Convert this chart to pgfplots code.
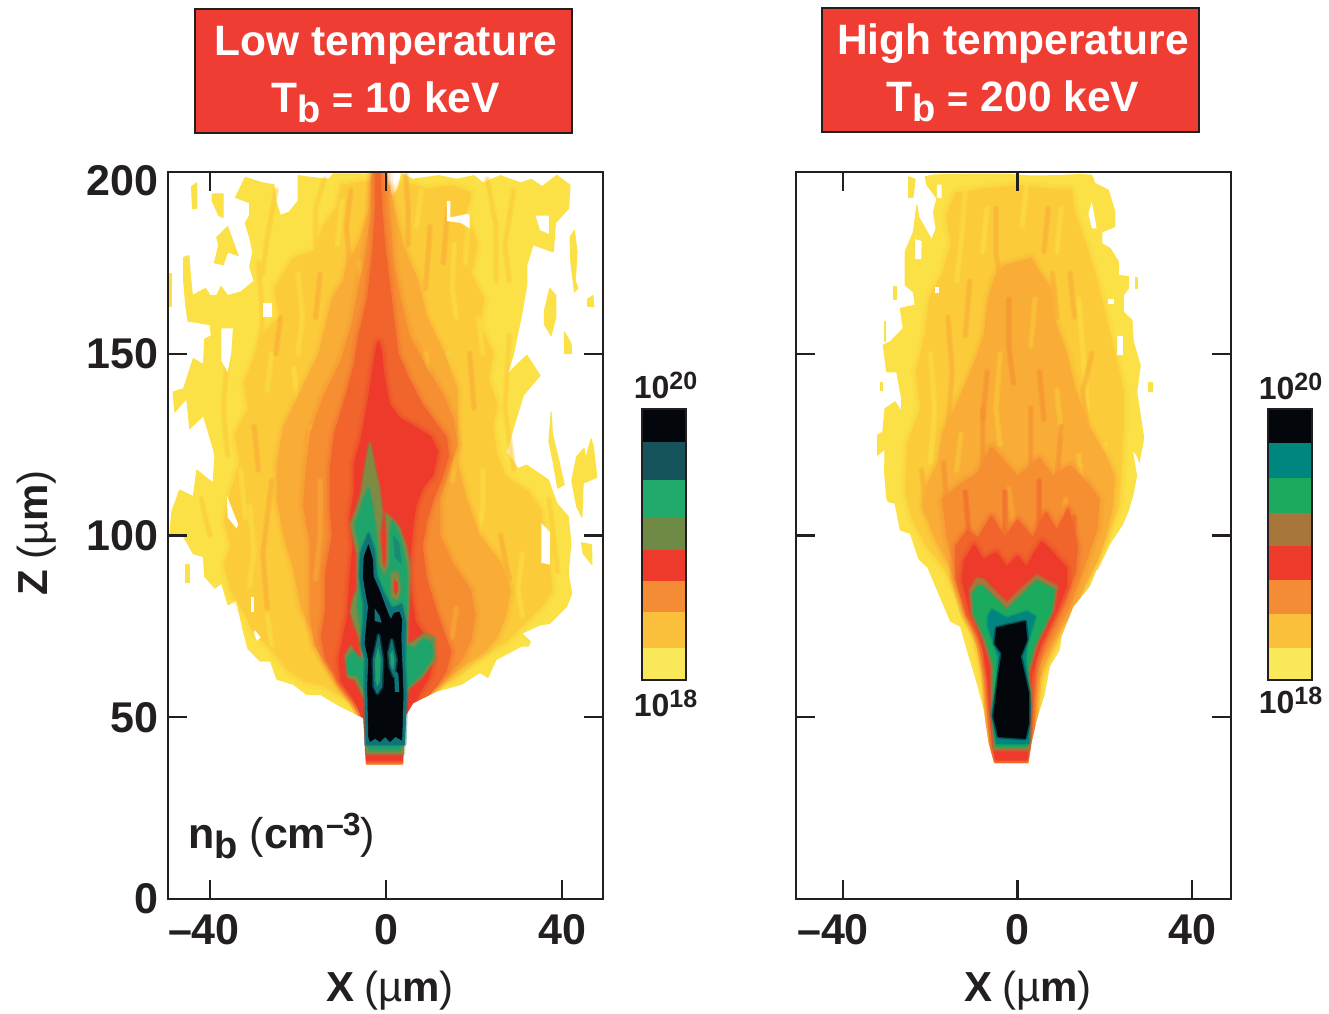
\documentclass[border=0pt]{standalone}
\usepackage{pgfplots}
\pgfplotsset{compat=1.18}
\usepackage{fontspec}
\setmainfont{Liberation Sans}
\definecolor{cy}{HTML}{FBE145}
\definecolor{cg}{HTML}{FCCB3A}
\definecolor{cm}{HTML}{F9AC36}
\definecolor{co}{HTML}{F68F32}
\definecolor{cr}{HTML}{F1652C}
\definecolor{cd}{HTML}{EE3A2A}
\definecolor{cl}{HTML}{7F8A45}
\definecolor{cn}{HTML}{1FA56B}
\definecolor{ct}{HTML}{0F7478}
\definecolor{ck}{HTML}{03060A}
\definecolor{cb}{HTML}{A6763A}
\definecolor{cn2}{HTML}{1BAA5E}
\definecolor{ct2}{HTML}{00857F}
\definecolor{bary}{HTML}{F8E85A}
\definecolor{barg}{HTML}{FAC03C}
\definecolor{baro}{HTML}{F48B35}
\definecolor{barl}{HTML}{6F8A45}
\definecolor{barn}{HTML}{22A96C}
\definecolor{bart}{HTML}{15525A}
\definecolor{title}{HTML}{EF3D33}
\definecolor{ln}{HTML}{231F20}
\newcommand{\poly}[2]{\addplot[fill=#1,draw=#1,line width=1pt,line join=round] coordinates {#2} --cycle;}
\newcommand{\crisp}[2]{\addplot[fill=#1,draw=none] coordinates {#2} --cycle;}
\newcommand{\soft}[2]{%
\addplot[draw=#1,line width=13pt,opacity=.16,line join=round] coordinates {#2} --cycle;
\addplot[draw=#1,line width=8pt,opacity=.28,line join=round] coordinates {#2} --cycle;
\addplot[fill=#1,draw=#1,line width=3pt,line join=round] coordinates {#2} --cycle;}
\newcommand{\softer}[2]{%
\addplot[draw=#1,line width=4pt,opacity=.4,line join=round] coordinates {#2} --cycle;
\addplot[fill=#1,draw=#1,line width=1pt,line join=round] coordinates {#2} --cycle;}
\newcommand{\streak}[2]{\addplot[draw=#1,line width=6pt,opacity=.4,line cap=round,line join=round] coordinates {#2};
\addplot[draw=#1,line width=3pt,opacity=.4,line cap=round,line join=round] coordinates {#2};}
\newcommand{\fs}[1]{\fontsize{#1}{#1}\selectfont}
\pgfplotsset{panel/.style={
  scale only axis,width=435pt,height=727pt,anchor=south west,
  ymin=0,ymax=200,axis on top,
  axis line style={line width=2.6pt,ln},
  xtick={-40,0,40},xtick pos=bottom,
  ytick={0,50,100,150},ytick pos=both,
  tick align=inside,major tick length=19pt,
  tick style={line width=2.4pt,ln},
  tick label style={font=\fs{43}\bfseries,text=ln},
  /pgf/number format/assume math mode=true,
  xticklabel style={yshift=-12pt},
  yticklabel style={xshift=-6pt},
},
cbar/.style={
  scale only axis,width=44pt,height=271pt,anchor=south west,
  xmin=0,xmax=1,ymin=18,ymax=20,axis on top,
  axis line style={line width=2.6pt,ln},ticks=none}}
\begin{document}
\begin{tikzpicture}
\path[use as bounding box] (0pt,0pt) rectangle (1329pt,1013pt);
% ---------- LEFT PANEL ----------
\begin{axis}[panel,at={(168pt,114pt)},xmin=-49.55,xmax=49.3,
  xticklabels={{\hbox to 84pt{–40\hfil}},0,40},
  extra y ticks={200},extra y tick labels={200},
  extra tick style={yticklabel style={yshift=-9pt}}]
\poly{cy}{(3.9,36.9)(4.3,50)(6.2,53.8)(11.5,57)(17.2,58.9)(21.3,62.1)(23.2,60.7)(25.1,65.7)(30.8,69.4)(31.9,68.3)(32.8,70.8)(30.8,73.1)(35,75.4)(37.2,75.8)(41,80.4)(42.2,84.1)(41.4,89.6)(42,98)(41.4,105.2)(38.8,108.9)(36.9,115.3)(31.9,119.4)(30,118.4)(27.4,123)(28.9,129.4)(31.2,138.6)(35,144)(32,149.6)(28.9,146)(27.4,144)(28.9,149.6)(30.8,160.6)(32,169)(32,174.4)(33.4,180)(38,178)(38.5,186)(41.5,190)(41.8,196.4)(38.8,199.1)(35.5,196)(33,198)(30.6,197)(26,199)(22,197)(20,199)(16,198)(12,199)(6,198)(3.5,199.5)(2.5,194)(1.2,190)(0.5,195)(0,199.5)(-12,199.5)(-13,198)(-17,198.5)(-20,199)(-20,192)(-22,189)(-24,188)(-25,192)(-25.5,196.5)(-28,197)(-32,198.5)(-33,196)(-34.2,193)(-31,191.5)(-31,188)(-32,186)(-31,182)(-30.3,178)(-31,174)(-30,170)(-31,169)(-33,167)(-36,166)(-37.5,168.5)(-38.5,166)(-40,166)(-41,168)(-44,166)(-44.5,172)(-44.8,177)(-46,176.5)(-46,170)(-45.5,163)(-45,159)(-40,158)(-39.7,155)(-41.2,154)(-41.5,147)(-43.8,148.7)(-46,140.4)(-48.4,139.5)(-48,134)(-45.3,137.7)(-44.6,129.4)(-41.5,133)(-39.3,124)(-38.9,121.7)(-39.3,114.4)(-43,118)(-43.8,110.7)(-46.9,112.5)(-48.7,106.6)(-49.1,100.6)(-46,99.7)(-43.8,95)(-41.5,94.2)(-41.2,88.7)(-38.9,85.5)(-37.4,86.9)(-35.9,80.9)(-34,82.3)(-32.5,74)(-31.3,68.5)(-28.7,65.3)(-26.4,65.3)(-24.9,60.3)(-21.1,58.9)(-18.1,56.1)(-15,56.1)(-10.5,52.9)(-5.2,49.7)(-4.6,36.9)}
% islands
\poly{cy}{(-44.2,196)(-43,197)(-43,190)(-44,190)}
\poly{cy}{(-39.5,194)(-37,194)(-37,187.5)(-38,188)(-39.5,192)}
\poly{cy}{(-38.5,182)(-36,185)(-33.6,177)(-36,178)(-37,174.5)(-39,175)(-38,180)}
\poly{cy}{(-49.2,172)(-48.8,172)(-48.8,163)(-49.2,163)}
\poly{cy}{(41.8,182)(42.8,184)(43.4,178)(43,170)(43.6,168)(42.8,167)(42,175)}
\poly{cy}{(45.8,165)(47,166)(47.2,163)(45.8,163)}
\poly{cy}{(40.5,156)(42,153)(42.2,150)(40.5,150)}
\poly{cy}{(37.2,168)(38.6,166)(38.6,160)(37.5,155)(36,158)(36,162)}
\poly{cy}{(37.5,134)(37.8,128)(39,122)(40.5,114)(39,113)(38,120)(37,126)}
\poly{cy}{(47.1,124.5)(47.9,116)(44.8,114.4)(44.5,105)(43.3,108)(42.2,115)(43.3,121.7)(45,124)(45.3,121)(46.6,126.6)}
\poly{cy}{(44.4,98)(46.7,97.5)(46.8,92)(44.8,95)}
\poly{cy}{(-45.6,92)(-44.6,92)(-44.6,87)(-45.6,87)}
% gold
\soft{cg}{(3.9,38)(4.8,54)(8,58)(15,60.5)(20,65.5)(23,68)(27,71)(30,74.5)(33,78)(35.5,81)(37.5,85)(37,91)(37,98)(35.5,101)(35,107)(32,112)(27,116)(25,122)(24,130)(25,136)(23,143)(24,150)(21,158)(22,165)(19,172)(20.5,180)(18,188)(19,194)(15,196)(9,195)(4,197)(2.8,195)(1,192)(0,195)(-1,197)(-6,197)(-10,196)(-11,190)(-14,185)(-16,178)(-21,176)(-23,172)(-25,168)(-24,160)(-28,155)(-30,148)(-32,142)(-31,135)(-34,128)(-33,120)(-35,112)(-36.5,104)(-35,97)(-36.5,92)(-35,85)(-32,79)(-30,74)(-26,69)(-22,63)(-18,60)(-14,59)(-10,56)(-5,52)(-4.6,38)}
% streaks over yellow and gold
\streak{cg}{(-29,175)(-28,160)(-30,140)(-29,125)}
\streak{cg}{(28,155)(27,135)(29,118)}
\streak{cg}{(-25,195)(-27,182)(-28,172)}
\streak{cg}{(29,195)(27,180)(28,170)}
\streak{cg}{(37,110)(38,100)(39,90)}
\streak{cg}{(-42,110)(-40,100)}
\streak{cg}{(-14,198)(-16,190)(-16,180)}
\streak{cg}{(23,198)(25,185)(25,170)}
\streak{cg}{(-36,150)(-37,135)(-36,122)}
\streak{cg}{(33,100)(35,88)(34,80)}
\streak{cy}{(-20,172)(-19,160)(-20,150)}
\streak{cy}{(-21,146)(-20,136)(-21,128)}
\streak{cy}{(15.5,180)(15,168)(16,160)}
\streak{cy}{(14,150)(15,140)}
\streak{cy}{(22,118)(22,108)(21,100)}
\streak{cy}{(-31,108)(-30,96)(-31,86)}
\streak{cy}{(-27,78)(-26,70)}
\streak{cy}{(31,95)(30,85)(31,78)}
\streak{cy}{(21,160)(22,150)}
\streak{cy}{(8,195)(7,185)}
\streak{cy}{(-26,150)(-27,140)}
\streak{cy}{(-10,192)(-11,180)}
\streak{cy}{(-33,118)(-32,105)}
\streak{cy}{(19,190)(18,175)}
\streak{cm}{(-18,140)(-19,125)(-18,108)}
\streak{cm}{(-8,170)(-9,185)(-8,195)}
\streak{cm}{(9,168)(10,185)}
\streak{cm}{(21,98)(24,85)(22,72)}
\streak{cm}{(-26,115)(-28,95)(-27,80)}
\streak{cm}{(-15,172)(-16,160)}
\streak{cm}{(19,150)(20,135)}
\streak{cm}{(4.5,199)(5,190)(5,180)}
\streak{cm}{(-24,160)(-25,150)}
\streak{cm}{(14,190)(13,175)}
\streak{cm}{(26,100)(28,88)}
\streak{cm}{(-30,130)(-29,118)}
% mid orange
\soft{cm}{(3.9,38)(5.5,54)(8.5,57)(13,60)(17,64)(22,68)(25,72)(27,78)(28,85)(26,92)(21,100)(18,110)(16,120)(16,130)(16,140)(13,150)(9,160)(7,170)(3.5,180)(2,188)(0.5,196)(-3,197)(-3.5,190)(-6,180)(-8.5,175)(-9.5,170)(-12,165)(-13,160)(-15,150)(-19,140)(-23,130)(-24.5,120)(-24.5,110)(-23,100)(-21,92)(-19,80)(-16,72)(-13,67)(-10,60)(-7,55)(-5.2,52)(-4.6,38)}
\streak{cg}{(-17,130)(-18,115)(-17,100)}
\streak{cg}{(16,125)(15,115)}
\streak{cg}{(9,150)(10,140)}
\streak{cg}{(-5,165)(-6,175)}
% orange
\soft{co}{(3.9,38)(5,52)(7,55.5)(10,58)(14,62)(17,66)(19,71)(20,78)(19,85)(15,92)(12,100)(12,110)(14,118)(16,125)(15,132)(13,138)(9,146)(5,155)(3,165)(1.5,175)(0.5,190)(0,199.5)(-3,199.5)(-3.2,188)(-4.5,177)(-6,168)(-7.5,158)(-10,148)(-14,138)(-17,128)(-18,118)(-18.5,108)(-17,98)(-17,88)(-17,78)(-16,70)(-13,64)(-10,58)(-6.5,54)(-5,52)(-4.6,38)}
\streak{cm}{(-15,115)(-15,100)(-16,88)}
\streak{cm}{(16,80)(15,72)}
% orange-red
\soft{cr}{(3.9,38)(4.7,50)(6.5,53)(9,55.5)(11.5,59)(13.5,63)(14.5,68)(13,73)(11,80)(9,88)(8,97)(9,104)(10.5,110)(12.5,116)(14,122)(13.5,127)(11,131)(8,136)(5,143)(2.5,150)(1.5,160)(0.5,170)(-0.5,180)(-1.2,190)(-1.5,199.5)(-2.2,199.5)(-2.2,190)(-2.8,178)(-4,165)(-6,155)(-7,147)(-9,138)(-11.5,128)(-12.5,118)(-12.5,108)(-12,100)(-13.5,90)(-13.5,80)(-14.5,72)(-13.5,66)(-10.5,60)(-7.5,55)(-5,51)(-4.6,38)}
% red
\soft{cd}{(3.9,38.5)(4.3,50)(6,53)(7.5,57)(9.5,61)(10.5,66)(9,71.5)(6.5,76)(5.5,83)(5,90)(5.5,98)(6,104)(6.5,108)(8,113)(10.5,117)(11.5,123)(10,127)(6,130)(3,132)(0.5,136)(-0.7,144)(-1.2,150)(-1.7,153)(-2.2,150)(-3,144)(-4,136)(-5.5,126)(-7,120)(-7,112)(-8,105)(-7.3,97)(-8,88)(-8.5,78)(-9.5,72)(-10.5,66)(-10,60)(-7,55)(-5.2,50)(-4.7,38.5)}
% white outside the outer contour
\crisp{white}{(-49.4,68.5)(-31.3,68.5)(-28.7,65.3)(-26.4,65.3)(-24.9,60.3)(-21.1,58.9)(-18.1,56.1)(-15,56.1)(-10.5,52.9)(-5.2,49.7)(-4.6,36.9)(3.9,36.9)(4.3,50)(6.2,53.8)(11.5,57)(17.2,58.9)(21.3,62.1)(23.2,60.7)(25.1,65.7)(30.8,69.4)(49,69.4)(49,30)(-49.4,30)}
% holes
\crisp{white}{(35.3,103.4)(37.2,101)(37.2,92)(35.3,92.5)}
\crisp{white}{(-36.2,111)(-33.6,103)(-34,102)(-36,105)}
\crisp{white}{(-30.6,83)(-30,83)(-30,79)(-30.6,79)}
\crisp{white}{(-29.8,74)(-28.5,72)(-29.3,71)(-30,73)}
\crisp{white}{(-27.9,164)(-26,164)(-26,160)(-27.9,160)}
\crisp{white}{(13.8,192)(14.6,192)(14.6,187.5)(18.5,188.5)(19,188)(19,184.5)(17,186)(13.8,186.5)}
\crisp{white}{(34,188)(37,188)(37,183)(35,184)}
\crisp{white}{(-37.4,157)(-34.8,157)(-35.2,150)(-36,145)(-37.4,148)}
% olive
\softer{cl}{(-3.7,125.4)(-2.5,118)(-1.6,113)(-0.9,106)(-1.5,100)(-1,92.5)(-0.3,90.5)(0.2,93)(0.3,100)(0,106)(1,105)(3,102)(4.5,97)(5.4,92)(5.3,85)(5,78)(4.8,70)(6,70.5)(8.8,73)(11,72)(11.2,66)(8,61)(5,58)(4,51)(3.9,40)(-4.4,40)(-4.4,50)(-4.8,55)(-7,60.5)(-8.6,61)(-9.2,67)(-8,69.5)(-6.5,65.5)(-5.4,66)(-6,72)(-7,75)(-8,79)(-7.3,83)(-6.5,85)(-6.5,95)(-7.5,100)(-8,103)(-6.5,108)(-5.5,112)(-4.8,118)}
% green
\softer{cn}{(-4,113)(-3,107)(-2.3,100)(-1.9,92)(-0.4,88.5)(1,92)(1,101)(1.5,104)(3,100)(4,95)(4.7,90)(4.6,80)(4.2,70)(6.5,69)(8.5,71.5)(10.4,70.5)(10.5,66.5)(8,62)(4.5,58)(3.2,50)(3.2,41)(-3.8,41)(-3.8,50)(-4.2,56)(-6.5,61.5)(-8.5,62)(-8.8,66)(-7.5,68)(-5,65)(-4.6,68)(-5.5,73)(-6.4,80)(-6,88)(-5.8,96)(-7,103)(-5.8,107)(-5,110)}
\softer{cl}{(1.3,89.5)(2.6,90)(3.2,85)(2.6,82.5)(1.4,83)(1.2,86)}
\crisp{cd}{(1.8,88)(2.6,87)(2.8,85)(2.2,83.5)(1.7,85)}
\crisp{ct!50!cn}{(1.6,100)(3,98)(3.6,92)(2,94)}
% teal
\softer{ct}{(-4,100.5)(-2.7,96)(-2.2,89)(-0.7,84.5)(1,80.5)(1.6,80)(3.5,81)(4.4,76)(4.2,65)(4.6,56)(4.2,42.5)(-4.5,42.5)(-4.8,58)(-4.7,66)(-5.6,70)(-5.1,76)(-5,81)(-5.4,84)(-6,89)(-5.8,95)}
% black
\addplot[fill=ck,draw=ck,line width=.5pt,line join=round] coordinates {(-4,97.4)(-3,93.3)(-2.9,88.7)(-1.4,84.6)(0.3,79)(1.1,76.8)(1.8,78.6)(3,79)(3.6,76.8)(3.4,72.2)(3.6,65.8)(3.9,56.6)(3.6,43.7)(2.1,44.7)(0.9,43.3)(-0.2,44.7)(-1.4,43.3)(-2.5,44.2)(-3.6,43.3)(-4,44.7)(-4.2,58.4)(-4,65.8)(-4.8,70.3)(-4.4,75.9)(-4,80.4)(-4.6,84.1)(-5.2,88.7)(-5,94.2)} --cycle;
\crisp{ct}{(-2.6,80)(-1.5,78)(-1,76)(-2.6,76.5)}
\softer{ct}{(-1.7,72.6)(-0.8,65.8)(-1,58.4)(-2,56.6)(-2.7,58.4)(-2.9,65.8)}
\crisp{cn}{(-1.8,69.5)(-1.2,65.8)(-1.4,60)(-2,58.4)(-2.4,60)(-2.5,65.8)}
\softer{ct}{(1.3,71.3)(2.3,65.8)(1.8,61.2)(0.9,63.9)(0.6,67.6)}
\crisp{cn}{(1.4,68.5)(1.9,65.8)(1.6,63)(1.1,64.3)(0.95,67)}
\crisp{ct}{(1.8,63)(2.8,62)(3,57)(2,57)}
\draw[line width=2.4pt,ln] (axis cs:-40,200)--(axis cs:-40,194.8);
\draw[line width=2.4pt,ln] (axis cs:0,200)--(axis cs:0,194.8);
\end{axis}
% ---------- RIGHT PANEL ----------
\begin{axis}[panel,at={(796pt,114pt)},xmin=-50.8,xmax=48.9,yticklabels={},
  xticklabels={{\hbox to 92pt{–40\hfil}},0,40}]
\poly{cy}{(2.5,37.3)(3.2,42.8)(4.4,49.2)(6.3,56.6)(7.4,63.9)(9.7,68.5)(10.1,72.2)(12.8,80.4)(16.6,86)(18.1,90.5)(21.2,97.9)(24.2,103.4)(25.4,107)(26.5,111.6)(27.7,119.3)(28.9,126.7)(27.3,139.5)(28.1,146.8)(26.5,153.3)(26.2,159.2)(24.2,161.5)(24.2,166.1)(25.4,168)(25.4,171.2)(23.1,171.6)(23.1,175.3)(21.2,179)(19.3,180.3)(19.3,183.5)(22.3,185)(22.3,189)(20.8,195)(17.7,196.9)(17,199.1)(14.3,199.3)(9,199)(2.9,198.9)(-2.5,199.4)(-10.9,199.4)(-19.3,199.2)(-21.2,198.7)(-20.8,196.4)(-18.5,192.7)(-19.3,189)(-18.7,184.5)(-19.7,181.3)(-22.7,187.7)(-23.1,190.9)(-23.9,183.5)(-25.8,178)(-25.8,168.9)(-23.9,167)(-23.5,163.4)(-26.9,162.5)(-26.2,157)(-29.2,153.3)(-30.8,152.4)(-30,145)(-27.7,145)(-26.6,137.7)(-26.6,134)(-28.1,136.8)(-30.4,134.9)(-30.9,128.5)(-32.1,127.6)(-32.1,122.1)(-30.4,123.9)(-30.5,117.5)(-30,110.2)(-29.6,109.3)(-28.1,108.9)(-26.9,101.5)(-24.6,100.6)(-22.7,93.7)(-20.8,91.4)(-15.5,76.3)(-13.2,74.9)(-11.7,68.5)(-9.4,59.3)(-7.8,52)(-6.7,42.8)(-5.4,37.3)}
\poly{cy}{(-25,198.7)(-23.5,198)(-24,193)(-25,193)}
\poly{cy}{(30,142)(30.8,142)(30.8,139.5)(30,139.5)}
\poly{cy}{(27,171)(27.4,171)(27.4,168)(27,168)}
\poly{cy}{(-28.5,168.5)(-27.8,168.5)(-27.8,165)(-28.5,165)}
\poly{cy}{(-31.4,142)(-31,142)(-31,140)(-31.4,140)}
\poly{cy}{(-30.6,158.8)(-30.2,158.8)(-30.2,153.5)(-30.6,153.5)}
% gold
\soft{cg}{(2,38.5)(3,43)(3.5,49)(4.5,56)(5.5,63)(7.5,68.5)(10,78)(13,85)(17,93)(20,100)(23,108)(23.5,118)(24,130)(24,140)(22,150)(20,160)(18,170)(16,178)(13,188)(12,195)(8,195)(0,196)(-8,195)(-14,194)(-16,188)(-15,180)(-17,172)(-20,165)(-21,155)(-23,145)(-22,135)(-25,125)(-25.5,112)(-24,105)(-21,98)(-16,90)(-13,82)(-10,74)(-8.5,66)(-7,58)(-5.5,46)(-5,38.5)}
\streak{cy}{(-12,195)(-13,180)(-14,170)}
\streak{cy}{(14,165)(15,150)(16,135)}
\streak{cy}{(-20,150)(-19,135)(-20,120)}
\streak{cy}{(2,196)(1,185)}
\streak{cy}{(20,125)(21,112)}
\streak{cy}{(-7,190)(-8,178)}
\streak{cy}{(10,190)(9,178)}
\streak{cm}{(-5,190)(-5,178)(-4,170)}
\streak{cm}{(7,190)(6,178)}
\streak{cm}{(17,150)(15,140)(16,125)}
\streak{cm}{(-16,160)(-15,145)(-16,130)}
\streak{cm}{(-2,165)(-3,152)}
\streak{cm}{(8,172)(9,160)}
\streak{cm}{(-11,170)(-12,155)}
\streak{cm}{(12,172)(13,160)}
\streak{cm}{(-22,118)(-21,106)}
% mid orange
\soft{cm}{(2,38)(3,42)(3.8,50)(4.5,60)(7,68)(10,75)(13,80)(15.5,87)(18,93)(20,100)(21.5,108)(22,116)(20,122)(16,130)(13,140)(11,150)(8,160)(7.5,168)(5,172)(3,176)(-3,174)(-5,171)(-6.5,165)(-7.5,155)(-9.5,148)(-13,138)(-17,128)(-18,120)(-20.5,114)(-21.5,108)(-19,100)(-15.5,92)(-13.5,85)(-11,78)(-8,70)(-6.5,62)(-6,52)(-5.5,43)(-5,38)}
\streak{cg}{(-4,150)(-5,135)(-4,125)}
\streak{cg}{(9,140)(10,128)}
\streak{cg}{(-13,128)(-14,118)}
\streak{cg}{(14,122)(15,112)}
\streak{cg}{(4,165)(3,152)}
\streak{co}{(-2,165)(-2,152)(-1,142)}
\streak{co}{(5,145)(6,132)}
\streak{co}{(-7,145)(-8,132)}
% orange
\soft{co}{(2,38)(3,44)(3.6,55)(4.5,64)(8,72)(11.5,80)(14,88)(16,95)(18,102)(18.5,110)(16,114)(12,119)(8,116)(5,121)(0,116)(-6,124)(-9,117)(-14,113)(-17,110)(-16,100)(-14,90)(-12,80)(-9,72)(-7,62)(-6,50)(-5,38)}
\streak{cm}{(-2,113)(-1,104)}
\streak{cm}{(11,110)(10,102)}
\streak{co}{(-8,115)(-8,135)}
\streak{co}{(3,115)(3,135)}
\streak{co}{(9,115)(10,130)}
\streak{co}{(-16,105)(-17,120)}
% orange-red
\soft{cr}{(2,38.5)(3,46)(3.3,55)(4,66)(7.5,75)(10.5,82)(13,90)(13.5,97)(12.5,103)(11.5,107)(9,101)(6.5,106)(3.5,99)(0,104)(-3,99)(-6,105)(-9,99)(-11.5,101)(-14,97)(-14,88)(-11.5,78)(-8,71)(-7,62)(-6.2,50)(-5,38.5)}
\streak{cr}{(-11,98)(-12,112)}
\streak{cr}{(5,98)(5,115)}
\streak{cr}{(12,92)(13,105)}
\streak{cr}{(-3,100)(-3,112)}
% red
\soft{cd}{(-4.8,38.5)(2,38.5)(2.4,46)(2.6,55)(3,62)(5,70)(7,75)(9,80)(11,86)(11,91)(8,95)(5.5,98)(4,95)(2,91)(0,94)(-2.5,91)(-5,95)(-8,93)(-10,97)(-12,93)(-12.5,88)(-11,80)(-9,74)(-7.5,68)(-6.5,60)(-6,50)(-5.5,42)}
% white outside the outer contour
\crisp{white}{(-50.5,91.4)(-20.8,91.4)(-15.5,76.3)(-13.2,74.9)(-11.7,68.5)(-9.4,59.3)(-7.8,52)(-6.7,42.8)(-5.4,37.3)(2.5,37.3)(3.2,42.8)(4.4,49.2)(6.3,56.6)(7.4,63.9)(9.7,68.5)(10.1,72.2)(12.8,80.4)(16.6,86)(18.1,90.5)(48.5,90.5)(48.5,30)(-50.5,30)}
% holes
\crisp{white}{(-23.5,181.5)(-22,181)(-22.1,176)(-23.5,176)}
\crisp{white}{(-18.5,196.5)(-17.4,196.5)(-17.4,192.7)(-18.5,193)}
\crisp{white}{(16.2,188.6)(17,184.5)(18.1,184.5)(17,191.8)}
\crisp{white}{(22.7,155)(24.2,155)(24.2,149.6)(22.7,149.6)}
\crisp{white}{(-18.9,168.4)(-18.1,168.4)(-18.1,166.6)(-18.9,166.6)}
\crisp{white}{(20.8,165)(22,165)(22,163.8)(20.8,163.8)}
\crisp{white}{(26.5,123)(27.2,122)(28.5,118)(27.3,117)}
% brown edge
\softer{cb}{(-9.4,88.2)(-10.9,85)(-10.5,78.6)(-7.8,71.3)(-5.9,64)(-5.9,51)(-5.5,41)(2.5,41)(3.2,54.8)(2.5,62)(4.4,70.3)(8.2,79.5)(9,86)(4.4,89)(0.6,85)(-2.5,81.4)(-4.8,84)(-7.8,87.8)}
% green
\softer{cn2}{(-9,86)(-10.3,84)(-10,78.5)(-7.3,71.5)(-5.4,64)(-5.4,51)(-5,42)(2,42)(2.7,54.8)(2,62)(3.9,70)(7.6,79)(8.4,85)(4.4,87.5)(0.6,83)(-2.5,79.5)(-5,82.5)(-8,86)}
% teal
\softer{ct2}{(-6.7,77.7)(-5.9,79.5)(-2.5,77.2)(2.1,79)(4,77.7)(2.1,70.3)(1.7,65.8)(2.5,58.4)(2.9,52.9)(2.5,42.8)(-4.8,42.8)(-5.9,51)(-4.6,60.3)(-4.4,66.7)(-6.7,75)}
% black
\softer{ck}{(-4.8,74.5)(-2.5,75.2)(1.7,76.3)(2.1,71.3)(0.6,66.7)(1.3,63)(2.5,56.6)(2.5,48.3)(1.7,44.2)(-4.4,44.7)(-5.5,50.2)(-4.4,61.2)(-3.6,67.6)(-5.2,70.3)}
\draw[line width=2.4pt,ln] (axis cs:-40,200)--(axis cs:-40,194.8);
\draw[line width=2.4pt,ln] (axis cs:0,200)--(axis cs:0,194.8);
\end{axis}
% ---------- COLOUR BARS ----------
\begin{axis}[cbar,at={(642pt,333pt)}]
\crisp{bary}{(0,18)(1,18)(1,18.235)(0,18.235)}
\crisp{barg}{(0,18.235)(1,18.235)(1,18.5)(0,18.5)}
\crisp{baro}{(0,18.5)(1,18.5)(1,18.728)(0,18.728)}
\crisp{cd}{(0,18.728)(1,18.728)(1,18.963)(0,18.963)}
\crisp{barl}{(0,18.963)(1,18.963)(1,19.199)(0,19.199)}
\crisp{barn}{(0,19.199)(1,19.199)(1,19.478)(0,19.478)}
\crisp{bart}{(0,19.478)(1,19.478)(1,19.757)(0,19.757)}
\crisp{ck}{(0,19.757)(1,19.757)(1,20)(0,20)}
\end{axis}
\begin{axis}[cbar,at={(1268pt,333pt)}]
\crisp{bary}{(0,18)(1,18)(1,18.235)(0,18.235)}
\crisp{barg}{(0,18.235)(1,18.235)(1,18.49)(0,18.49)}
\crisp{baro}{(0,18.49)(1,18.49)(1,18.74)(0,18.74)}
\crisp{cd}{(0,18.74)(1,18.74)(1,18.99)(0,18.99)}
\crisp{cb}{(0,18.99)(1,18.99)(1,19.235)(0,19.235)}
\crisp{cn2}{(0,19.235)(1,19.235)(1,19.49)(0,19.49)}
\crisp{ct2}{(0,19.49)(1,19.49)(1,19.75)(0,19.75)}
\crisp{ck}{(0,19.75)(1,19.75)(1,20)(0,20)}
\end{axis}
% ---------- TEXT ----------
\newcommand{\bartext}[1]{\fs{32}\bfseries 10\raisebox{9pt}{\fs{25}\bfseries #1}}
\node[text=ln] at (665.5pt,1013pt-385pt) {\bartext{20}};
\node[text=ln] at (665.5pt,1013pt-703pt) {\bartext{18}};
\node[text=ln] at (1290.5pt,1013pt-386pt) {\bartext{20}};
\node[text=ln] at (1290.5pt,1013pt-700pt) {\bartext{18}};
\draw[fill=title,draw=ln,line width=2.4pt] (195pt,1013pt-9pt) rectangle (572pt,1013pt-133pt);
\draw[fill=title,draw=ln,line width=2.4pt] (822pt,1013pt-8pt) rectangle (1199pt,1013pt-132pt);
\newcommand{\tb}[1]{\fs{42.5}\bfseries T\raisebox{-10pt}{\fs{38}\bfseries b}\hspace{12pt}{\fs{36}=}\hspace{12pt}#1}
\node[text=white] at (386pt,1013pt-45pt) {\fs{42.5}\bfseries Low temperature};
\node[text=white] at (385.5pt,1013pt-102pt) {\tb{10 keV}};
\node[text=white] at (1013pt,1013pt-44pt) {\fs{42.5}\bfseries High temperature};
\node[text=white] at (1013pt,1013pt-101pt) {\tb{200 keV}};
\newcommand{\um}{\fs{42}\bfseries X\hspace{10pt}{\mdseries (µ}m{\mdseries )}}
\node[text=ln] at (390pt,1013pt-991pt) {\um};
\node[text=ln] at (1028pt,1013pt-991pt) {\um};
\node[text=ln,rotate=90] at (37pt,1013pt-533pt) {\fs{42}\bfseries Z\hspace{10pt}{\mdseries (µ}m{\mdseries )}};
\node[text=ln,anchor=west,inner sep=0pt] at (188pt,1013pt-836pt) {\fs{43}\bfseries n\raisebox{-10pt}{\fs{38}\bfseries b}\hspace{12pt}{\mdseries (}cm\raisebox{13pt}{\fs{32}\bfseries –\hspace{-1pt}3}{\mdseries )}};
\end{tikzpicture}
\end{document}
